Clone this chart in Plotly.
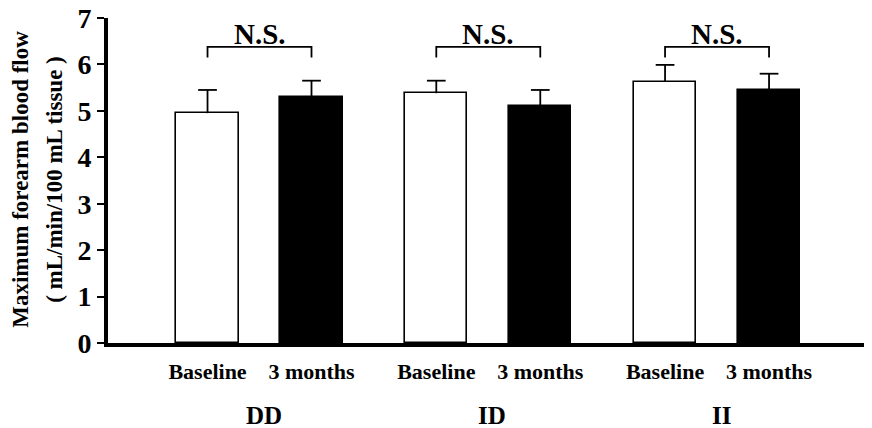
import plotly.graph_objects as go

groups = ["DD", "ID", "II"]
conditions = ["Baseline", "3 months"]
baseline_mean = [4.95, 5.38, 5.62]
baseline_err = [0.50, 0.27, 0.37]
month3_mean = [5.30, 5.10, 5.45]
month3_err = [0.35, 0.35, 0.35]
yticks = [0, 1, 2, 3, 4, 5, 6, 7]
sig_labels = ["N.S.", "N.S.", "N.S."]

GROUP_STEP = 2.2
BAR_W = 0.6
CAP_HALF = 0.09
FONT = "Liberation Serif, Times New Roman, serif"

x_base = [i * GROUP_STEP for i in range(len(groups))]
x_m3 = [i * GROUP_STEP + 1 for i in range(len(groups))]

fig = go.Figure()
fig.add_trace(go.Bar(
    x=x_base, y=baseline_mean, width=BAR_W,
    marker=dict(color="white", line=dict(color="black", width=1.6)),
    showlegend=False,
))
fig.add_trace(go.Bar(
    x=x_m3, y=month3_mean, width=BAR_W,
    marker=dict(color="black", line=dict(color="black", width=1.6)),
    showlegend=False,
))

# upper-only error bars (T shape)
ex, ey = [], []
for xs, ms, es in [(x_base, baseline_mean, baseline_err), (x_m3, month3_mean, month3_err)]:
    for x, m, e in zip(xs, ms, es):
        ex += [x, x, None, x - CAP_HALF, x + CAP_HALF, None]
        ey += [m, m + e, None, m + e, m + e, None]
fig.add_trace(go.Scatter(x=ex, y=ey, mode="lines", line=dict(color="black", width=1.8),
                         showlegend=False, hoverinfo="skip", cliponaxis=False))

bracket_y = 6.38
tip_y = 6.15
for i, g in enumerate(groups):
    xa, xb = x_base[i], x_m3[i]
    fig.add_trace(go.Scatter(
        x=[xa, xa, xb, xb], y=[tip_y, bracket_y, bracket_y, tip_y],
        mode="lines", line=dict(color="black", width=1.8),
        showlegend=False, hoverinfo="skip", cliponaxis=False,
    ))
    fig.add_annotation(x=(xa + xb) / 2, y=bracket_y, yshift=-5, text=sig_labels[i],
                       showarrow=False, yanchor="bottom",
                       font=dict(family=FONT, size=29, color="black", weight="bold"))
    fig.add_annotation(x=(xa + xb) / 2, y=0, yref="y", yshift=-72, xshift=4, text=g,
                       showarrow=False, yanchor="middle",
                       font=dict(family=FONT, size=25, color="black", weight="bold"))

tickvals = []
ticktext = []
for i in range(len(groups)):
    tickvals += [x_base[i], x_m3[i]]
    ticktext += conditions

fig.add_annotation(xref="paper", yref="paper", x=-0.114, y=0.505, xanchor="center",
                   yanchor="middle", textangle=-90, showarrow=False,
                   text="Maximum forearm blood flow",
                   font=dict(family=FONT, size=23, color="black", weight="bold"))
fig.add_annotation(xref="paper", yref="paper", x=-0.0694, y=0.505, xanchor="center",
                   yanchor="middle", textangle=-90, showarrow=False,
                   text="( mL/min/100 mL tissue )",
                   font=dict(family=FONT, size=23, color="black", weight="bold"))

fig.update_layout(
    width=864, height=420,
    margin=dict(l=100, r=0, t=10, b=85),
    paper_bgcolor="white", plot_bgcolor="white",
    bargap=0,
    xaxis=dict(range=[-0.957, 6.39], tickvals=tickvals, ticktext=ticktext,
               automargin=False,
               showgrid=False, zeroline=False, showline=True, linecolor="black",
               linewidth=4, ticks="", ticklabelstandoff=6,
               tickfont=dict(family=FONT, size=22, color="black", weight="bold")),
    yaxis=dict(range=[0, 7], tickvals=yticks, showgrid=False, zeroline=False,
               automargin=False,
               showline=True, linecolor="black", linewidth=4, ticks="outside",
               ticklen=7, tickwidth=1.5, tickcolor="black", ticklabelstandoff=0,
               ticklabeloverflow="allow",
               tickfont=dict(family=FONT, size=28, color="black", weight="bold")),
)

fig.write_html("out.html")
